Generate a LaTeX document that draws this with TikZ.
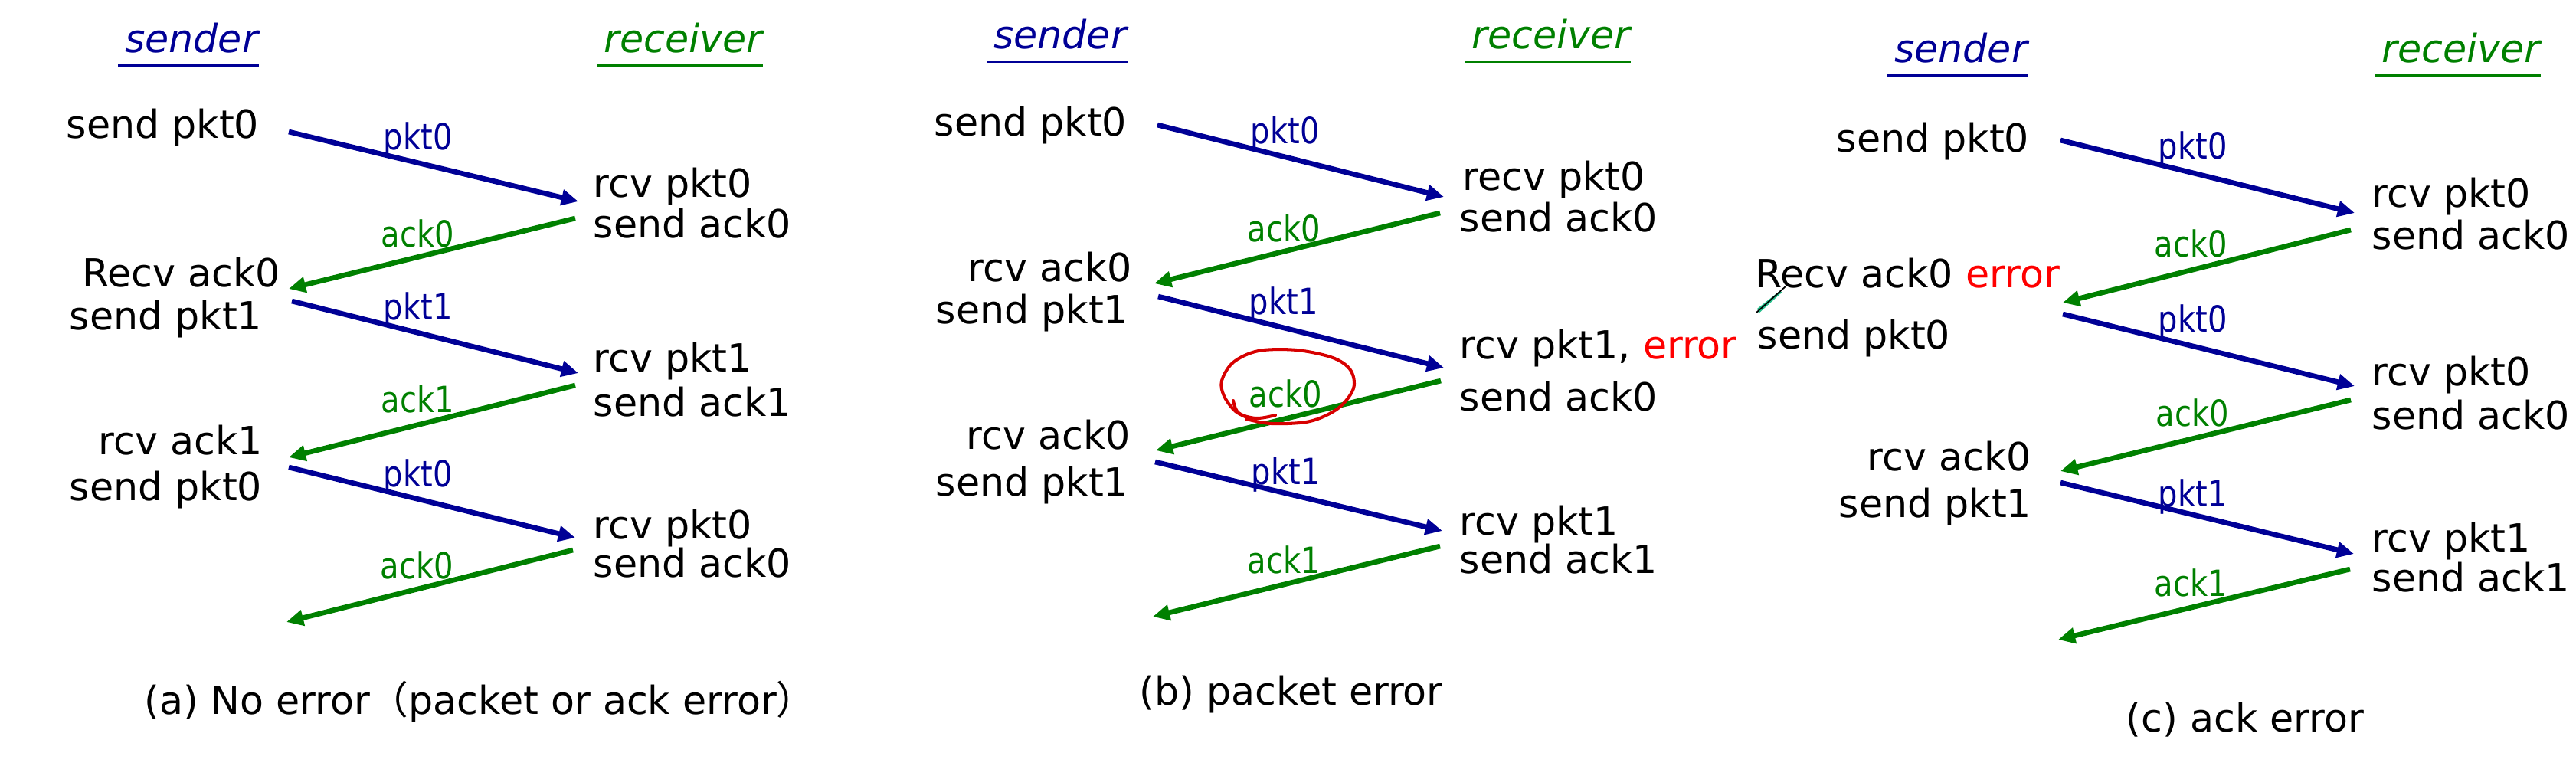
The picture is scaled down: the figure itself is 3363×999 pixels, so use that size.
\documentclass[tikz,border=0pt]{standalone}
\usepackage{fontspec}
\setmainfont{DejaVu Sans}
\newfontfamily\lblfont[FakeStretch=0.85]{DejaVu Sans}
\newfontfamily\cjk{Noto Sans CJK SC}
\usetikzlibrary{arrows.meta,calc}
\definecolor{pktblue}{RGB}{0,0,150}
\definecolor{ackgreen}{RGB}{0,128,0}
\definecolor{errred}{RGB}{255,0,0}
\definecolor{circred}{RGB}{215,0,0}
\definecolor{calloutteal}{RGB}{40,190,140}
\newcommand\mainfs{\fontsize{14.4pt}{17pt}\selectfont}
\newcommand\lblfs{\lblfont\fontsize{13.4pt}{15pt}\selectfont}
\tikzset{
  txt/.style={anchor=base west, inner sep=0pt, font=\mainfs},
  ttl/.style={anchor=base, inner sep=0pt, font=\mainfs\itshape},
  pktlbl/.style={anchor=base west, inner sep=0pt, font=\lblfs, text=pktblue},
  acklbl/.style={anchor=base west, inner sep=0pt, font=\lblfs, text=ackgreen},
  pktarr/.style={draw=pktblue, line width=1.9pt, -{Triangle[length=6.3pt,width=5.7pt]}},
  ackarr/.style={draw=ackgreen, line width=1.9pt, -{Triangle[length=6.3pt,width=5.7pt]}},
  uline/.style={line width=0.85pt},
  circ/.style={draw=circred, line width=1.15pt, line cap=round, line join=round},
}
\begin{document}
\begin{tikzpicture}[x=0.01cm,y=-0.01cm]
\useasboundingbox (0,0) rectangle (3363,999);

% ---------------- panel (a) ----------------
\node[ttl, text=pktblue] (tsA) at (250,68) {sender};
\node[ttl, text=ackgreen] (trA) at (892,68) {receiver};
\draw[uline, pktblue] ($(tsA.base west)+(-8,17)$) -- ($(tsA.base east)+(0,17)$);
\draw[uline, ackgreen] ($(trA.base west)+(-8,17)$) -- ($(trA.base east)+(0,17)$);

\node[txt] (sA1) at (86,180) {send pkt0};
\node[txt] (rA1) at (774,257) {rcv pkt0};
\node[txt] (rA2) at (774,310) {send ack0};
\node[txt] (sA2) at (107,374) {Recv ack0};
\node[txt] (sA3) at (90,430) {send pkt1};
\node[txt] (rA3) at (774,485) {rcv pkt1};
\node[txt] (rA4) at (774,543) {send ack1};
\node[txt] (sA4) at (128,593) {rcv ack1};
\node[txt] (sA5) at (90,653) {send pkt0};
\node[txt] (rA5) at (774,703) {rcv pkt0};
\node[txt] (rA6) at (774,753) {send ack0};

\coordinate (A1s) at (377,172); \coordinate (A1e) at (755,263);
\coordinate (A2s) at (751,285); \coordinate (A2e) at (377,377);
\coordinate (A3s) at (381,393); \coordinate (A3e) at (755,487);
\coordinate (A4s) at (751,503); \coordinate (A4e) at (377,597);
\coordinate (A5s) at (377,610); \coordinate (A5e) at (751,702);
\coordinate (A6s) at (748,718); \coordinate (A6e) at (374,812);
\draw[pktarr] (A1s) -- (A1e);
\draw[ackarr] (A2s) -- (A2e);
\draw[pktarr] (A3s) -- (A3e);
\draw[ackarr] (A4s) -- (A4e);
\draw[pktarr] (A5s) -- (A5e);
\draw[ackarr] (A6s) -- (A6e);
\node[pktlbl] (lA1) at (500,195) {pkt0};
\node[acklbl] (lA2) at (497,322) {ack0};
\node[pktlbl] (lA3) at (500,417) {pkt1};
\node[acklbl] (lA4) at (497,538) {ack1};
\node[pktlbl] (lA5) at (500,635) {pkt0};
\node[acklbl] (lA6) at (496,755) {ack0};

\node[txt] (capA) at (188,932) {(a) No error{\cjk （}packet or ack error{\cjk ）}};

% ---------------- panel (b) ----------------
\node[ttl, text=pktblue] (tsB) at (1384,63) {sender};
\node[ttl, text=ackgreen] (trB) at (2025,63) {receiver};
\draw[uline, pktblue] ($(tsB.base west)+(-8,17)$) -- ($(tsB.base east)+(0,17)$);
\draw[uline, ackgreen] ($(trB.base west)+(-8,17)$) -- ($(trB.base east)+(0,17)$);

\node[txt] (sB1) at (1219,177) {send pkt0};
\node[txt] (rB1) at (1909,248) {recv pkt0};
\node[txt] (rB2) at (1905,302) {send ack0};
\node[txt] (sB2) at (1263,367) {rcv ack0};
\node[txt] (sB3) at (1221,422) {send pkt1};
\node[txt] (rB3) at (1905,468) {rcv pkt1, \textcolor{errred}{error}};
\node[txt] (rB4) at (1905,536) {send ack0};
\node[txt] (sB4) at (1261,586) {rcv ack0};
\node[txt] (sB5) at (1221,647) {send pkt1};
\node[txt] (rB5) at (1905,698) {rcv pkt1};
\node[txt] (rB6) at (1905,748) {send ack1};

\coordinate (B1s) at (1511,163); \coordinate (B1e) at (1885,257);
\coordinate (B2s) at (1880,278); \coordinate (B2e) at (1507,370);
\coordinate (B3s) at (1512,387); \coordinate (B3e) at (1885,480);
\coordinate (B4s) at (1881,497); \coordinate (B4e) at (1509,588);
\coordinate (B5s) at (1508,603); \coordinate (B5e) at (1883,693);
\coordinate (B6s) at (1880,713); \coordinate (B6e) at (1505,805);
\draw[pktarr] (B1s) -- (B1e);
\draw[ackarr] (B2s) -- (B2e);
\draw[pktarr] (B3s) -- (B3e);
\draw[ackarr] (B4s) -- (B4e);
\draw[pktarr] (B5s) -- (B5e);
\draw[ackarr] (B6s) -- (B6e);
\node[pktlbl] (lB1) at (1632,187) {pkt0};
\node[acklbl] (lB2) at (1628,315) {ack0};
\node[pktlbl] (lB3) at (1630,410) {pkt1};
\node[acklbl] (lB4) at (1630,531) {ack0};
\node[pktlbl] (lB5) at (1633,632) {pkt1};
\node[acklbl] (lB6) at (1628,748) {ack1};

% hand-drawn red circle around the ack0 label
\draw[circ] plot[smooth, tension=0.55] coordinates {(1627,547) (1660,553) (1710,550) (1747,533) (1767,507) (1763,483) (1740,467) (1693,457) (1643,458) (1610,473) (1595,497) (1598,517) (1613,537) (1633,547)};
\draw[circ] plot[smooth, tension=0.6] coordinates {(1610,523) (1617,539) (1640,546) (1665,542)};

\node[txt] (capB) at (1487,920) {(b) packet error};

% ---------------- panel (c) ----------------
\node[ttl, text=pktblue] (tsC) at (2560,81) {sender};
\node[ttl, text=ackgreen] (trC) at (3213,81) {receiver};
\draw[uline, pktblue] ($(tsC.base west)+(-8,17)$) -- ($(tsC.base east)+(0,17)$);
\draw[uline, ackgreen] ($(trC.base west)+(-8,17)$) -- ($(trC.base east)+(0,17)$);

\node[txt] (sC1) at (2397,198) {send pkt0};
\node[txt] (rC1) at (3096,270) {rcv pkt0};
\node[txt] (rC2) at (3096,325) {send ack0};
\node[txt] (sC2) at (2291,375) {Recv ack0 \textcolor{errred}{error}};
\node[txt] (sC3) at (2294,455) {send pkt0};
\node[txt] (rC3) at (3096,503) {rcv pkt0};
\node[txt] (rC4) at (3096,560) {send ack0};
\node[txt] (sC4) at (2437,614) {rcv ack0};
\node[txt] (sC5) at (2400,675) {send pkt1};
\node[txt] (rC5) at (3096,720) {rcv pkt1};
\node[txt] (rC6) at (3096,772) {send ack1};

% small callout stroke under "Recv"
\coordinate (clA) at (2331,374);
\coordinate (clB) at (2293,408);
\fill[calloutteal] (2294,403) -- (2322,381) -- (2327,381) -- (2296,409) -- cycle;
\draw[black, line width=0.5pt] (clA) -- (clB);

\coordinate (C1s) at (2690,183); \coordinate (C1e) at (3074,278);
\coordinate (C2s) at (3069,300); \coordinate (C2e) at (2693,395);
\coordinate (C3s) at (2693,410); \coordinate (C3e) at (3074,504);
\coordinate (C4s) at (3069,522); \coordinate (C4e) at (2690,615);
\coordinate (C5s) at (2690,630); \coordinate (C5e) at (3073,723);
\coordinate (C6s) at (3068,743); \coordinate (C6e) at (2687,835);
\draw[pktarr] (C1s) -- (C1e);
\draw[ackarr] (C2s) -- (C2e);
\draw[pktarr] (C3s) -- (C3e);
\draw[ackarr] (C4s) -- (C4e);
\draw[pktarr] (C5s) -- (C5e);
\draw[ackarr] (C6s) -- (C6e);
\node[pktlbl] (lC1) at (2817,207) {pkt0};
\node[acklbl] (lC2) at (2812,335) {ack0};
\node[pktlbl] (lC3) at (2817,433) {pkt0};
\node[acklbl] (lC4) at (2814,556) {ack0};
\node[pktlbl] (lC5) at (2817,661) {pkt1};
\node[acklbl] (lC6) at (2812,778) {ack1};

\node[txt] (capC) at (2775,955) {(c) ack error};
\end{tikzpicture}
\end{document}
